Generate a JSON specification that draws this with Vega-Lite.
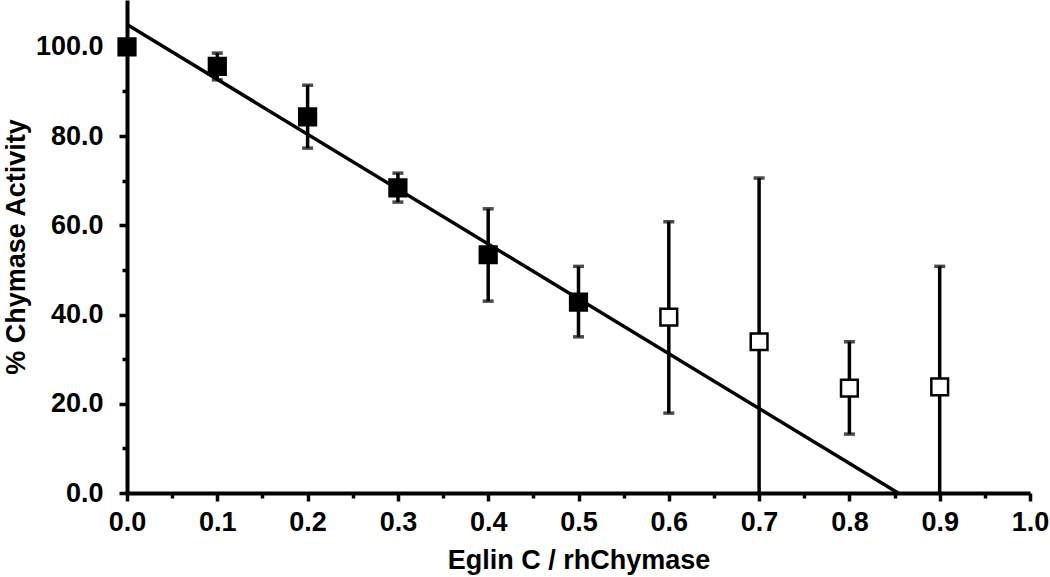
{
  "$schema": "https://vega.github.io/schema/vega-lite/v6.json",
  "autosize": {"type": "none"},
  "padding": {"left": 127, "top": 0, "right": 20, "bottom": 84},
  "width": 903,
  "height": 493,
  "background": "white",
  "config": {
    "view": {"stroke": null},
    "axis": {
      "domainColor": "black",
      "domainWidth": 4,
      "tickColor": "black",
      "tickWidth": 3.5,
      "grid": false,
      "labelFont": "Liberation Sans",
      "labelFontWeight": "bold",
      "labelFontSize": 27,
      "labelColor": "black",
      "titleFont": "Liberation Sans",
      "titleFontWeight": "bold",
      "titleFontSize": 27,
      "titleColor": "black"
    }
  },
  "datasets": {
    "points": [
      {"ratio": 0.0, "activity": 100.0, "lo": 99.0, "hi": 101.0, "set": "fitted"},
      {"ratio": 0.1, "activity": 95.6, "lo": 92.6, "hi": 98.6, "set": "fitted"},
      {"ratio": 0.2, "activity": 84.3, "lo": 77.3, "hi": 91.4, "set": "fitted"},
      {"ratio": 0.3, "activity": 68.4, "lo": 65.2, "hi": 71.7, "set": "fitted"},
      {"ratio": 0.4, "activity": 53.4, "lo": 43.0, "hi": 63.7, "set": "fitted"},
      {"ratio": 0.5, "activity": 42.8, "lo": 35.0, "hi": 50.8, "set": "fitted"},
      {"ratio": 0.6, "activity": 39.4, "lo": 17.9, "hi": 60.8, "set": "excluded"},
      {"ratio": 0.7, "activity": 33.9, "lo": -2.8, "hi": 70.6, "set": "excluded"},
      {"ratio": 0.8, "activity": 23.5, "lo": 13.2, "hi": 33.9, "set": "excluded"},
      {"ratio": 0.9, "activity": 23.8, "lo": -3.2, "hi": 50.8, "set": "excluded"}
    ],
    "fit": [
      {"ratio": 0.0, "activity": 105.0},
      {"ratio": 0.854, "activity": 0.0}
    ]
  },
  "layer": [
    {
      "data": {"name": "fit"},
      "mark": {"type": "line", "color": "black", "strokeWidth": 3.5, "clip": true},
      "encoding": {
        "x": {
          "field": "ratio", "type": "quantitative",
          "scale": {"domain": [0, 1], "nice": false, "zero": false},
          "axis": {
            "title": "Eglin C / rhChymase",
            "values": [0, 0.05, 0.1, 0.15, 0.2, 0.25, 0.3, 0.35, 0.4, 0.45, 0.5, 0.55, 0.6, 0.65, 0.7, 0.75, 0.8, 0.85, 0.9, 0.95, 1.0],
            "labelExpr": "round(datum.value*100) % 10 === 0 ? format(datum.value, '.1f') : ''",
            "tickSize": {"condition": {"test": "round(datum.value*100) % 10 === 0", "value": 8}, "value": 5},
            "labelPadding": 8,
            "titlePadding": 12,
            "labelFlush": false,
            "labelOverlap": false
          }
        },
        "y": {
          "field": "activity", "type": "quantitative",
          "scale": {"domain": [0, 110.5], "nice": false},
          "axis": {
            "title": "% Chymase Activity",
            "values": [0, 5, 10, 15, 20, 25, 30, 35, 40, 45, 50, 55, 60, 65, 70, 75, 80, 85, 90, 95, 100, 105],
            "labelExpr": "datum.value % 20 === 0 ? format(datum.value, '.1f') : ''",
            "tickSize": {"condition": {"test": "datum.value % 20 === 0", "value": 8}, "value": 5},
            "labelPadding": 16,
            "titlePadding": 5,
            "labelFlush": false,
            "labelOverlap": false
          }
        }
      }
    },
    {
      "data": {"name": "points"},
      "mark": {"type": "rule", "color": "black", "strokeWidth": 3.5, "clip": true},
      "encoding": {
        "x": {"field": "ratio", "type": "quantitative"},
        "y": {"field": "lo", "type": "quantitative"},
        "y2": {"field": "hi"}
      }
    },
    {
      "data": {"name": "points"},
      "mark": {"type": "tick", "color": "black", "orient": "horizontal", "size": 11, "thickness": 3.5, "clip": true},
      "encoding": {
        "x": {"field": "ratio", "type": "quantitative"},
        "y": {"field": "hi", "type": "quantitative"}
      }
    },
    {
      "data": {"name": "points"},
      "mark": {"type": "tick", "color": "black", "orient": "horizontal", "size": 11, "thickness": 3.5, "clip": true},
      "encoding": {
        "x": {"field": "ratio", "type": "quantitative"},
        "y": {"field": "lo", "type": "quantitative"}
      }
    },
    {
      "data": {"name": "points"},
      "mark": {"type": "point", "shape": "square", "size": 280, "strokeWidth": 2.5, "opacity": 1, "filled": false},
      "encoding": {
        "x": {"field": "ratio", "type": "quantitative"},
        "y": {"field": "activity", "type": "quantitative"},
        "fill": {
          "field": "set", "type": "nominal",
          "scale": {"domain": ["fitted", "excluded"], "range": ["black", "white"]},
          "legend": null
        },
        "stroke": {"value": "black"}
      }
    }
  ]
}
